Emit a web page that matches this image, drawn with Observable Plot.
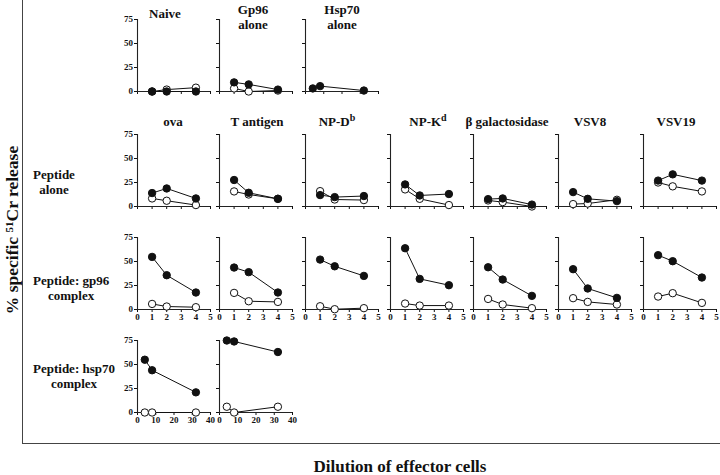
<!DOCTYPE html>
<html>
<head>
<meta charset="utf-8">
<script src="https://cdn.jsdelivr.net/npm/d3@7"></script>
<script src="https://cdn.jsdelivr.net/npm/@observablehq/plot@0.6"></script>
<style>
  html, body { margin: 0; padding: 0; background: #fff; }
  #root { position: relative; width: 720px; height: 475px; overflow: hidden; background: #fff;
          font-family: "Liberation Serif", "DejaVu Serif", serif; font-weight: bold; color: #111; }
  #root svg { overflow: visible; max-width: none !important; display: block; }
  .abs { position: absolute; overflow: visible; }
  .frame { position: absolute; left: 22px; top: 0; width: 698px; height: 444px;
           border-left: 1px solid #444; border-bottom: 1px solid #444; box-sizing: border-box; }
  .title { position: absolute; font-size: 13px; line-height: 14.5px; text-align: center; white-space: nowrap; transform: translateX(-50%); }
  .title sup { font-size: 10px; line-height: 0; vertical-align: 5px; }
  .rowlab { position: absolute; font-size: 13px; line-height: 14.5px; text-align: center; white-space: nowrap; }
  .xlab { position: absolute; font-size: 17px; line-height: 17px; white-space: nowrap; transform: translateX(-50%); }
  .ylab { position: absolute; font-size: 17.5px; line-height: 18px; white-space: nowrap; transform: translate(-50%, -50%) rotate(-90deg); }
  .ylab sup { font-size: 11px; vertical-align: 5px; line-height: 0; }
</style>
</head>
<body>
<div id="root"><div class="frame"></div></div>
<script>
// ---------- data ----------
const yTicks = [0, 25, 50, 75];
const dilTicks = [0, 1, 2, 3, 4, 5];
const hspTicks = [0, 10, 20, 30, 40];
const dilutions = [1, 2, 4];
const hspDilutions = [4, 8, 32];

const controlTitles = [["Naive"], ["Gp96", "alone"], ["Hsp70", "alone"]];
const controlFilled = [[0, 0, 0], [9.5, 7.4, 2], [3.2, 5.6, 1]];
const controlOpen   = [[0, 2, 4], [3.2, 0, 1], []];

const peptides   = ["ova", "T antigen", "NP-D", "NP-K", "β galactosidase", "VSV8", "VSV19"];
const peptideSup = ["", "", "b", "d", "", "", ""];

const aloneFilled = [[14, 18.8, 8.4], [27.6, 14.3, 8], [11.9, 9.8, 10.9], [23, 11.5, 13], [7.7, 8.4, 2], [15, 8, 5.6], [27, 33.5, 27]];
const aloneOpen   = [[8.4, 6, 1.5], [15.7, 12.5, 8], [16, 7.3, 6.7], [17.8, 8, 1.5], [6.3, 4.6, 0], [2.5, 3.1, 7], [25, 21, 15.7]];

const gp96Filled = [[54.8, 35.7, 17.7], [43.7, 38.9, 17.7], [52, 45, 35], [63.8, 31.9, 25.3], [44, 31.2, 14.2], [42, 21.9, 12.1], [56.6, 50.3, 33.3]];
const gp96Open   = [[5.8, 3.1, 2.4], [17.3, 8.6, 7.9], [3.4, 0.3, 1.4], [6.2, 4.1, 4.1], [11, 5.2, 1.4], [11.8, 7.9, 5.2], [13.5, 17, 6.9]];

const hsp70Filled = [[55, 44, 21], [75, 74, 63]];
const hsp70Open   = [[0, 0, 0], [6, 0, 6]];

const rowLabels = [["Peptide", "alone"], ["Peptide: gp96", "complex"], ["Peptide: hsp70", "complex"]];
const xTitle = "Dilution of effector cells";

// ---------- layout ----------
const colX = [137, 219, 305, 390, 473, 558, 643];   // left edge of each panel's plot area
const rowTop = [19, 134, 237, 340];                  // top (y = 75) of each row
const ML = 20, MR = 7, MT = 4, MB = 14, PW = 73, PH = 72;
const controlTitleX = [165, 253, 342];
const peptideTitleX = [173, 257, 337, 428, 507, 590, 676];

const root = document.getElementById("root");

function makePanel({xDomain, xTicks, xLabels, yLabels, xs, filled, open}) {
  const f = xs.map((x, i) => ({x, y: filled[i]}));
  const o = open.length ? xs.map((x, i) => ({x, y: open[i]})) : [];
  return Plot.plot({
    width: ML + PW + MR, height: MT + PH + MB,
    marginLeft: ML, marginRight: MR, marginTop: MT, marginBottom: MB,
    style: {fontFamily: "'Liberation Serif', serif", fontSize: "9px", fontWeight: "bold",
            background: "none", overflow: "visible", color: "#111", maxWidth: "none"},
    x: {domain: xDomain},
    y: {domain: [0, 75]},
    marks: [
      Plot.axisY(yTicks, {tickSize: 3, tickPadding: 1.5, label: null,
                          tickFormat: yLabels ? (d => String(d)) : (() => "")}),
      Plot.axisX(xTicks, {tickSize: 3, tickPadding: 1, label: null,
                          tickFormat: xLabels ? (d => String(d)) : (() => "")}),
      Plot.ruleX([xDomain[0]], {stroke: "#222", strokeWidth: 1.1}),
      Plot.ruleY([0], {stroke: "#222", strokeWidth: 1.1}),
      Plot.line(o, {x: "x", y: "y", stroke: "#111", strokeWidth: 1}),
      Plot.dot(o, {x: "x", y: "y", r: 3.7, fill: "white", stroke: "#111", strokeWidth: 1}),
      Plot.line(f, {x: "x", y: "y", stroke: "#111", strokeWidth: 1}),
      Plot.dot(f, {x: "x", y: "y", r: 3.7, fill: "#111", stroke: "#111", strokeWidth: 1})
    ]
  });
}

function place(svg, col, row) {
  const wrap = document.createElement("div");
  wrap.className = "abs";
  wrap.style.left = (colX[col] - ML) + "px";
  wrap.style.top = (rowTop[row] - MT) + "px";
  wrap.style.width = (ML + PW + MR) + "px";
  wrap.style.height = (MT + PH + MB) + "px";
  wrap.appendChild(svg);
  root.appendChild(wrap);
}

function addText(cls, html, left, top) {
  const d = document.createElement("div");
  d.className = cls;
  d.innerHTML = html;
  d.style.left = left + "px";
  d.style.top = top + "px";
  root.appendChild(d);
  return d;
}

// Row 1: controls
controlTitles.forEach((t, i) => {
  const isHsp = i === 2;
  place(makePanel({
    xDomain: isHsp ? [0, 40] : [0, 5], xTicks: isHsp ? hspTicks : dilTicks,
    xLabels: false, yLabels: i === 0,
    xs: isHsp ? hspDilutions : dilutions, filled: controlFilled[i], open: controlOpen[i]
  }), i, 0);
  addText("title", t.join("<br>"), controlTitleX[i], t.length > 1 ? 3 : 7);
});

// Row 2: peptide alone, Row 3: peptide-gp96
peptides.forEach((p, i) => {
  place(makePanel({xDomain: [0, 5], xTicks: dilTicks, xLabels: false, yLabels: i === 0,
                   xs: dilutions, filled: aloneFilled[i], open: aloneOpen[i]}), i, 1);
  place(makePanel({xDomain: [0, 5], xTicks: dilTicks, xLabels: true, yLabels: i === 0,
                   xs: dilutions, filled: gp96Filled[i], open: gp96Open[i]}), i, 2);
  addText("title", p + (peptideSup[i] ? "<sup>" + peptideSup[i] + "</sup>" : ""), peptideTitleX[i], 115);
});

// Row 4: peptide-hsp70
hsp70Filled.forEach((fv, i) => {
  place(makePanel({xDomain: [0, 40], xTicks: hspTicks, xLabels: true, yLabels: i === 0,
                   xs: hspDilutions, filled: fv, open: hsp70Open[i]}), i, 3);
});

// Row labels
const rowLabelTop = [168, 274, 362];
rowLabels.forEach((l, i) => addText("rowlab", l.join("<br>"), 33, rowLabelTop[i]));

// Axis titles
addText("xlab", xTitle, 400, 458);
addText("ylab", "% specific <sup>51</sup>Cr release", 12, 230);
</script>
</body>
</html>
